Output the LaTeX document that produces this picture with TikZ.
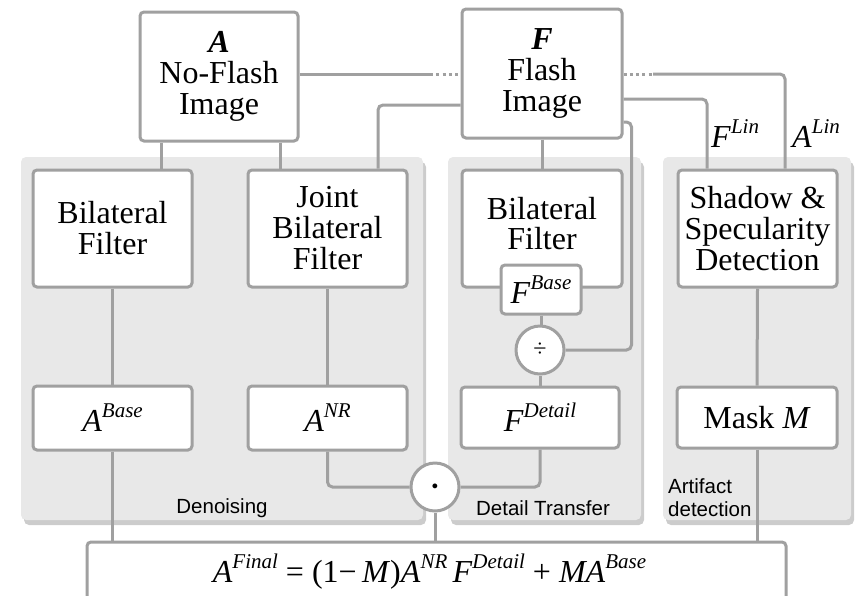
\documentclass[tikz,border=0pt]{standalone}
\usepackage{fontspec}
\setmainfont{Liberation Serif}
\newfontfamily\lblfont{Liberation Sans}
\usetikzlibrary{shadows}
\definecolor{lc}{HTML}{A0A0A0}
\definecolor{pf}{HTML}{E8E8E8}
\newcommand\mysup[1]{\raisebox{14pt}{\fontsize{21}{21}\selectfont\textit{#1}}}
\begin{document}
\begin{tikzpicture}[x=1pt,y=-1pt,
  conn/.style={draw=lc,line width=3pt,rounded corners=5pt},
  dotline/.style={draw=lc,line width=3pt,dash pattern=on 3pt off 3.3pt},
  box/.style={draw=lc,line width=3pt,fill=white,rounded corners=4pt,inner sep=0pt,align=center,font=\fontsize{32}{31}\selectfont},
  panel/.style={fill=pf,rounded corners=5pt,drop shadow={shadow xshift=3pt,shadow yshift=-5pt,fill=black,opacity=0.2}},
  lbl/.style={font=\lblfont\fontsize{20.5}{23}\selectfont,inner sep=0pt,align=left},
  op/.style={circle,draw=lc,line width=3pt,fill=white,minimum size=48pt,inner sep=0pt}]
\useasboundingbox (0,0) rectangle (861,595);
\clip (0,0) rectangle (861,595);
\fill[white] (0,0) rectangle (861,595);
% panels
\fill[panel] (21,157) rectangle (423,520);
\fill[panel] (448,157) rectangle (641,520);
\fill[panel] (663,157) rectangle (851,520);
% nodes
\node[box,minimum width=158pt,minimum height=129pt] (A) at (219,76.5) {\textbf{\textit{A}}\\No-Flash\\Image};
\node[box,minimum width=160pt,minimum height=129pt] (F) at (542,73.5) {\textbf{\textit{F}}\\Flash\\Image};
\node[box,minimum width=159pt,minimum height=117pt] (BF1) at (112.5,228.5) {Bilateral\\Filter};
\node[box,minimum width=159pt,minimum height=117pt] (JBF) at (327.5,228.5) {Joint\\Bilateral\\Filter};
\node[box,minimum width=160pt,minimum height=117pt] (BF2) at (542,228.5) {\raisebox{5pt}{\begin{tabular}{@{}c@{}}Bilateral\\[-1.5pt]Filter\end{tabular}}};
\node[box,minimum width=159pt,minimum height=117pt] (SH) at (757.5,228.5) {Shadow \&\\Specularity\\Detection};
\node[box,minimum width=80pt,minimum height=49pt] (FB) at (541,289.5) {\textit{F}\mysup{Base}};
\node[op] (div) at (540,350) {\fontsize{24}{24}\selectfont ÷};
\node[box,minimum width=159pt,minimum height=64pt] (AB) at (112.5,418) {\textit{A}\mysup{Base}};
\node[box,minimum width=159pt,minimum height=64pt] (ANR) at (327.5,418) {\textit{A}\mysup{NR}};
\node[box,minimum width=158pt,minimum height=61pt] (FD) at (540,417.5) {\textit{F}\mysup{Detail}};
\node[box,minimum width=160pt,minimum height=61pt] (MK) at (757,417.5) {Mask \textit{M}};
\node[op] (dot) at (435,487) {\fontsize{32}{32}\selectfont\scalebox{0.5}{$\bullet$}};
\node[box,minimum width=699pt,minimum height=60pt] (FIN) at (436.5,572) {\hspace*{-14pt}\textit{A}\mysup{Final} = (1−\,\textit{M})\textit{A}\mysup{NR}\,\textit{F}\mysup{Detail} + \textit{MA}\mysup{Base}};
% labels
\node[lbl,anchor=base] (l1) at (222,513) {Denoising};
\node[lbl,anchor=base] (l2) at (543,515) {Detail Transfer};
\node[lbl,anchor=base west] (l3) at (668,493) {Artifact};
\node[lbl,anchor=base west] (l4) at (668,516) {detection};
\node[anchor=base west,inner sep=0pt,font=\fontsize{32}{32}\selectfont] (flin) at (711,147) {\textit{F}\mysup{Lin}};
\node[anchor=base west,inner sep=0pt,font=\fontsize{32}{32}\selectfont] (alin) at (792,147) {\textit{A}\mysup{Lin}};
% connectors
\draw[conn] ([xshift=23pt]A.south west) coordinate (t1) -- (t1 |- BF1.north);
\draw[conn] ([xshift=-19pt]A.south east) coordinate (t2) -- (t2 |- JBF.north);
\draw[conn] ([yshift=-31.5pt]F.west) -| ([xshift=50.5pt]JBF.north);
\draw[conn] (F.south) -- (F.south |- BF2.north);
\draw[conn] (BF1.south) -- (AB.north);
\draw[conn] (AB.south) -- (AB.south |- FIN.north);
\draw[conn] (JBF.south) -- (ANR.north);
\draw[conn] (ANR.south) |- (dot.west);
\draw[conn] (FB.south) -- (FB.south |- div.north);
\draw[conn] (div.south) -- (div.south |- FD.north);
\draw[conn] (FD.south) |- (dot.east);
\draw[conn] (dot.south) -- (dot.south |- FIN.north);
\draw[conn] ([yshift=-48.5pt]F.east) -- ++(8,0) |- (div.east);
\draw[conn] ([yshift=-25.5pt]F.east) -| ([xshift=-50.5pt]SH.north);
\coordinate (d1) at (430,74);
\coordinate (d2) at (653,74);
\draw[conn] ([yshift=2.5pt]A.east) -- (d1);
\draw[dotline] (d1) -- (F.west |- d1);
\draw[dotline] (F.east |- d2) -- (d2);
\draw[conn] (d2) -| ([xshift=27.5pt]SH.north);
\draw[conn] (SH.south) -- (MK.north);
\draw[conn] (MK.south) -- (MK.south |- FIN.north);
\end{tikzpicture}
\end{document}
